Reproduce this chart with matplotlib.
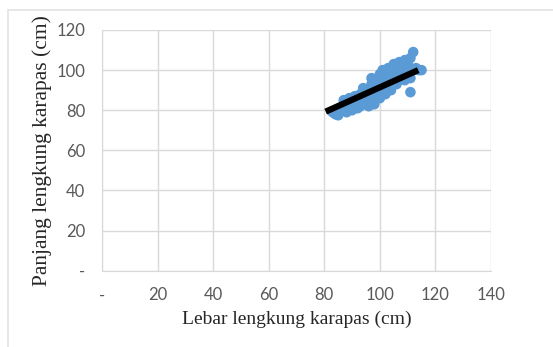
import matplotlib
matplotlib.use("Agg")
import matplotlib.pyplot as plt
from matplotlib.patches import Rectangle

# Data
lebar = [83, 84, 85, 86, 87, 88, 88, 89, 90, 90, 91, 91, 92, 92, 93, 93, 94, 94, 95, 95,
         96, 96, 97, 97, 97, 98, 98, 99, 99, 100, 100, 100, 101, 101, 102, 102, 103, 103, 104, 104,
         105, 105, 106, 106, 107, 107, 108, 108, 109, 109, 110, 110, 111, 111, 112, 112, 113, 114, 115, 111,
         96, 99, 103, 106, 109, 93, 89]
panjang = [79, 78, 77.5, 80, 85, 79, 84, 86, 80, 84, 82, 87, 81, 86, 84, 88, 86, 91, 87, 90,
           82, 89, 84, 93, 96, 83, 90, 87, 92, 86, 94, 98, 90, 100, 88, 96, 92, 101, 90, 98,
           94, 103, 93, 100, 95, 104, 97, 102, 95, 105, 98, 103, 96, 106, 109, 100, 101, 100, 100, 89,
           86, 95, 97, 97, 100, 82, 82]
trend_x = [80.5, 113.8]
trend_y = [79.3, 100.0]

x_ticks = [0, 20, 40, 60, 80, 100, 120, 140]
x_labels = ["-", "20", "40", "60", "80", "100", "120", "140"]
y_ticks = [0, 20, 40, 60, 80, 100, 120]
y_labels = ["-", "20", "40", "60", "80", "100", "120"]

W, H = 553, 347
fig = plt.figure(figsize=(W / 100, H / 100), dpi=100)
fig.patches.append(Rectangle((8 / W, -0.01), 1.0, 1 - 10 / H + 0.01, transform=fig.transFigure,
                             fill=False, edgecolor="#e3e3e3", linewidth=1.2))

left, right = 102 / W, 491 / W
bottom, top = 1 - 270.7 / H, 1 - 30 / H
ax = fig.add_axes([left, bottom, right - left, top - bottom])

ax.scatter(lebar, panjang, s=58, color="#5b9bd5", edgecolors="none", zorder=3)
ax.plot(trend_x, trend_y, color="black", linewidth=4.5, solid_capstyle="butt", zorder=4)

ax.set_xlim(0, 140)
ax.set_ylim(0, 120)
ax.set_xticks(x_ticks)
ax.set_xticklabels(x_labels)
ax.set_yticks(y_ticks)
ax.set_yticklabels(y_labels)
ax.grid(True, color="#d9d9d9", linewidth=1.0)
ax.set_axisbelow(True)
for s in ["top", "right"]:
    ax.spines[s].set_visible(False)
for s in ["left", "bottom"]:
    ax.spines[s].set_color("#d9d9d9")
ax.tick_params(length=0, labelsize=12, labelcolor="#595959", pad=12)
for lab in ax.get_xticklabels() + ax.get_yticklabels():
    lab.set_family("Lato")

ax.set_xlabel("Lebar lengkung karapas (cm)", family="Liberation Serif", fontsize=14,
              color="#262626", labelpad=5)
ax.set_ylabel("Panjang lengkung karapas (cm)", family="Liberation Serif", fontsize=15.5,
              color="#262626", labelpad=3)

fig.savefig("out.png", dpi=100)
